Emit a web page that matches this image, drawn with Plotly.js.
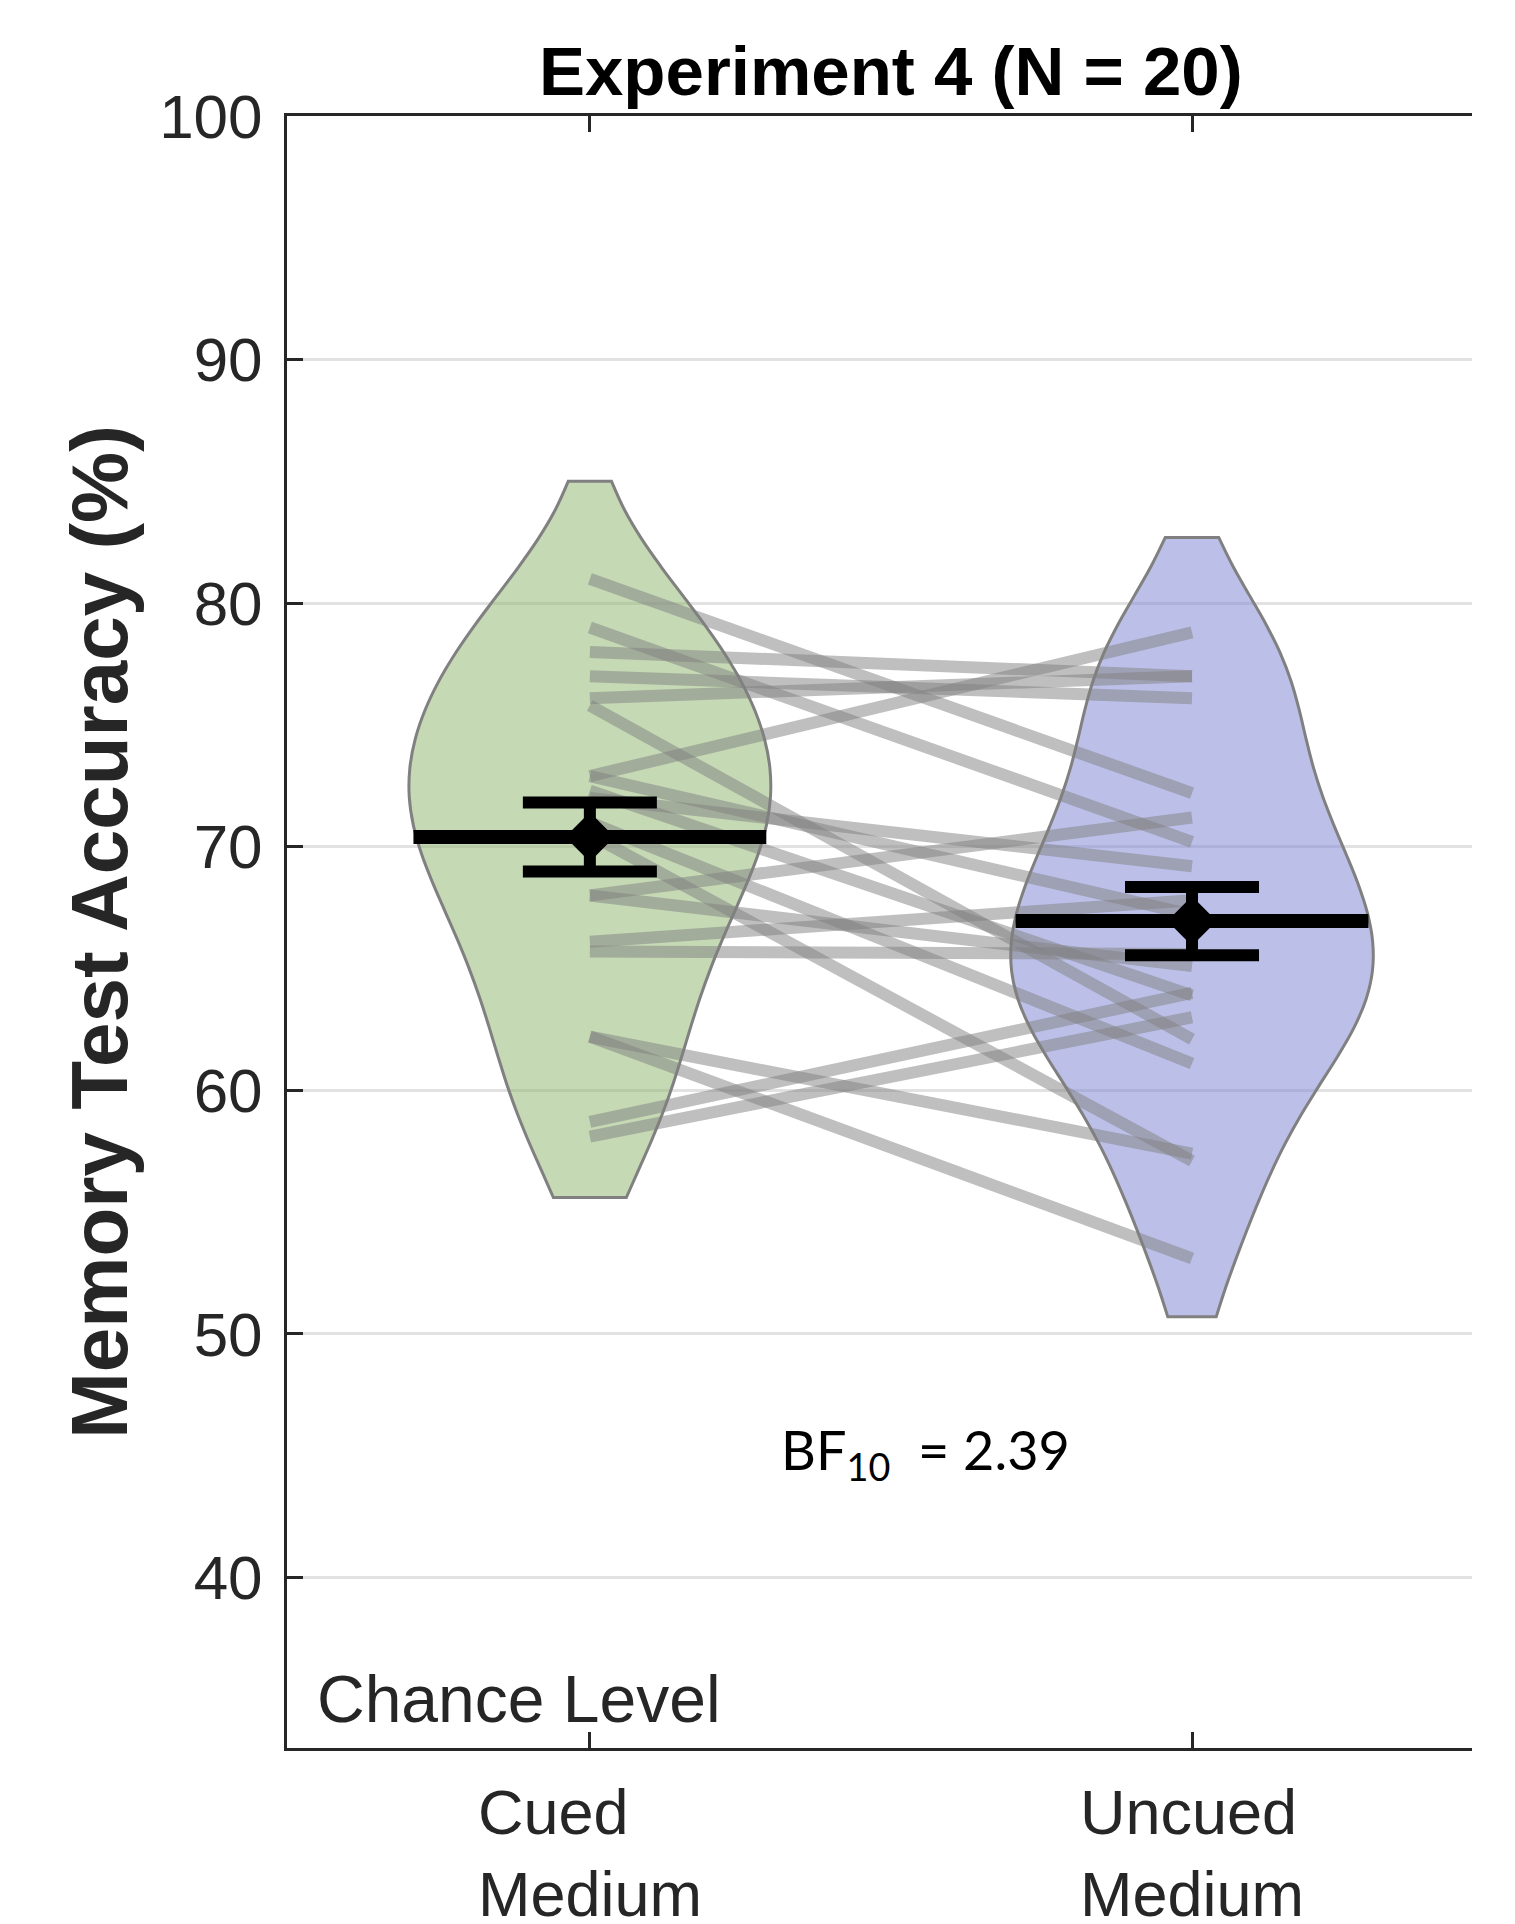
<!DOCTYPE html>
<html>
<head>
<meta charset="utf-8">
<script src="https://cdn.plot.ly/plotly-3.0.1.min.js"></script>
<style>
  html, body { margin: 0; padding: 0; background: #ffffff; }
  #chart { width: 1515px; height: 1924px; }
</style>
</head>
<body>
<div id="chart"></div>
<script>
// ---------- data ----------
const categories = ['Cued Medium', 'Uncued Medium'];
const tickLabels = ['Cued<br>Medium', 'Uncued<br>Medium'];
const positions = [1, 2];

// individual participants (paired: cued[i] -> uncued[i])
const cued   = [81.0, 79.0, 78.0, 77.0, 76.1, 75.8, 72.9, 72.9, 72.3, 72.0,
                71.0, 70.5, 68.0, 68.0, 66.1, 65.7, 62.2, 62.2, 58.7, 58.1];
const uncued = [72.2, 70.2, 77.0, 76.1, 77.0, 62.1, 78.8, 67.2, 63.9, 69.2,
                61.1, 57.1, 71.2, 65.1, 67.8, 65.6, 57.4, 53.1, 64.0, 63.0];

// group summary (mean and SEM)
const groupMeans = [70.4, 66.95];
const groupSEM   = [1.42, 1.40];

// extent of each violin as drawn
const violinSpanLow  = [55.6, 50.7];
const violinSpanHigh = [85.0, 82.7];

const yTicks = [40, 50, 60, 70, 80, 90, 100];

const titleText  = 'Experiment 4 (N = 20)';
const yTitleText = 'Memory Test Accuracy (%)';
const bfText     = 'BF<sub>10</sub>  = 2.39';
const chanceText = 'Chance Level';

// ---------- styles ----------
const FONT = '"Liberation Sans", Arial, Helvetica, sans-serif';
const AX = '#262626';
const violinFill = ['rgba(139,179,107,0.5)', 'rgba(121,129,209,0.5)'];
const groups = [cued, uncued];
const BW = 3.6;
const VIOLIN_WIDTH = 0.6;
const MEANLINE_HALF = 0.293;

const traces = [];

// violins
groups.forEach((vals, i) => {
  traces.push({
    type: 'violin',
    x0: positions[i],
    y: vals,
    name: categories[i],
    fillcolor: violinFill[i],
    line: { color: '#808080', width: 3 },
    points: false,
    box: { visible: false },
    meanline: { visible: false },
    spanmode: 'manual',
    span: [violinSpanLow[i], violinSpanHigh[i]],
    bandwidth: BW,
    width: VIOLIN_WIDTH,
    scalemode: 'width',
    hoverinfo: 'skip',
    showlegend: false
  });
});

// paired participant lines
cued.forEach((c, j) => {
  traces.push({
    type: 'scatter',
    mode: 'lines',
    x: positions,
    y: [c, uncued[j]],
    line: { color: 'rgba(128,128,128,0.5)', width: 12 },
    hoverinfo: 'skip',
    showlegend: false
  });
});

// mean lines across violins
groupMeans.forEach((m, i) => {
  traces.push({
    type: 'scatter',
    mode: 'lines',
    x: [positions[i] - MEANLINE_HALF, positions[i] + MEANLINE_HALF],
    y: [m, m],
    line: { color: '#000000', width: 14 },
    hoverinfo: 'skip',
    showlegend: false
  });
});

// mean markers with SEM error bars
traces.push({
  type: 'scatter',
  mode: 'markers',
  x: positions,
  y: groupMeans,
  marker: { symbol: 'diamond', size: 38, color: '#000000', line: { width: 0 } },
  error_y: { type: 'data', array: groupSEM, visible: true, color: '#000000', thickness: 12, width: 67 },
  hoverinfo: 'skip',
  showlegend: false
});

const annotations = [];
tickLabels.forEach((t, i) => {
  annotations.push({
    x: positions[i], xref: 'x', y: 0, yref: 'paper',
    xanchor: 'center', yanchor: 'top', align: 'left',
    yshift: -27,
    text: t, showarrow: false,
    font: { family: FONT, size: 63, color: AX }
  });
});
annotations.push({
  x: 1.557, xref: 'x', y: 45.1, yref: 'y',
  xanchor: 'center', yanchor: 'middle',
  text: bfText, showarrow: false,
  font: { family: 'Lato, "Liberation Sans", sans-serif', size: 54, color: '#000000' }
});
annotations.push({
  x: 0.543, xref: 'x', y: 35.0, yref: 'y',
  xanchor: 'left', yanchor: 'middle',
  text: chanceText, showarrow: false,
  font: { family: FONT, size: 66, color: AX }
});

const layout = {
  width: 1515,
  height: 1924,
  margin: { l: 287, r: 43, t: 116, b: 176 },
  paper_bgcolor: '#ffffff',
  plot_bgcolor: '#ffffff',
  showlegend: false,
  violinmode: 'overlay',
  font: { family: FONT, color: AX },
  title: {
    text: titleText,
    font: { family: FONT, size: 69, weight: 'bold', color: '#000000' },
    x: 0.588, xanchor: 'center',
    y: 1 - 71 / 1924, yanchor: 'middle'
  },
  xaxis: {
    range: [0.497, 2.465],
    tickvals: positions,
    showticklabels: false,
    ticks: 'inside', ticklen: 16, tickwidth: 3, tickcolor: AX,
    showline: true, linecolor: AX, linewidth: 3, mirror: 'ticks',
    showgrid: false, zeroline: false
  },
  yaxis: {
    range: [33, 100],
    tickvals: yTicks,
    ticks: 'inside', ticklen: 16, tickwidth: 3, tickcolor: AX,
    showline: true, linecolor: AX, linewidth: 3,
    showgrid: true, gridcolor: '#e2e2e2', gridwidth: 3,
    zeroline: false,
    tickfont: { family: FONT, size: 62, color: AX },
    ticklabelstandoff: 9,
    title: {
      text: yTitleText,
      font: { family: FONT, size: 80, weight: 'bold', color: AX },
      standoff: 6
    }
  },
  annotations: annotations
};

Plotly.newPlot('chart', traces, layout, { displayModeBar: false, staticPlot: true });
</script>
</body>
</html>
